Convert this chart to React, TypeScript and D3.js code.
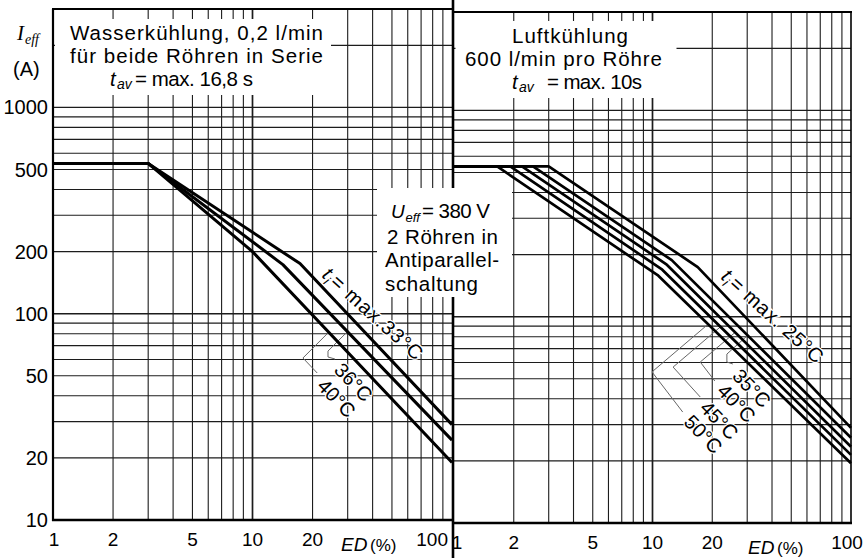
import React from "react";
import * as d3 from "d3";

type Pt = [number, number];

// ---------------- data ----------------
const edGrid = [1, 2, 3, 4, 5, 6, 7, 8, 9, 10, 20, 30, 40, 50, 60, 70, 80, 90, 100];
const currentGrid = [10, 20, 30, 40, 50, 60, 70, 80, 90, 100, 200, 300, 400, 500, 600, 700, 800, 900, 1000, 2000, 3000];
const edTickLabels = [1, 2, 5, 10, 20];
const currentTickLabels = [10, 20, 50, 100, 200, 500, 1000];

// water cooling (left panel): [ED %, I_eff A]
const water33: Pt[] = [[1, 535], [3, 535], [17.3, 175], [100, 29]];
const water36: Pt[] = [[1, 535], [3, 535], [14.2, 173], [100, 24.4]];
const water40: Pt[] = [[1, 535], [3, 535], [10, 200], [100, 19]];

// air cooling (right panel)
const air25: Pt[] = [[1, 535], [3.0, 535], [16.9, 174], [100, 28.9]];
const air35: Pt[] = [[1, 535], [2.5, 535], [12.5, 188], [100, 25.9]];
const air40: Pt[] = [[1, 535], [2.2, 535], [11.7, 180], [100, 23.4]];
const air45: Pt[] = [[1, 535], [1.92, 535], [11.2, 169], [100, 21.4]];
const air50: Pt[] = [[1, 535], [1.65, 535], [10.7, 158], [100, 19.5]];

const waterCurves = [water33, water36, water40];
const airCurves = [air25, air35, air40, air45, air50];

// ---------------- layout ----------------
const W = 865;
const H = 558;
const FONT = "'Liberation Sans', Arial, Helvetica, sans-serif";
const SERIF = "'Liberation Serif', 'Times New Roman', serif";

const xL = d3.scaleLog().domain([1, 100]).range([53, 452]);
const yL = d3.scaleLog().domain([10, 3000]).range([520, 9]);
const xR = d3.scaleLog().domain([1, 100]).range([454, 851]);
const yR = d3.scaleLog().domain([10, 3000]).range([523, 12]);

type Ann = { text: string; curve: Pt[]; at: Pt; leader: Pt[]; dir: number };

const leftAnns: Ann[] = [
  { text: "36°C", curve: water36, at: [25.3, 52.8], leader: [[25.9, 60.3], [23.9, 61.7], [23.9, 65.9]], dir: 1 },
  { text: "40°C", curve: water40, at: [20.8, 44.1], leader: [[21.1, 51.6], [17.9, 61.0]], dir: 1 },
];
const rightAnns: Ann[] = [
  { text: "35°C", curve: air35, at: [24.9, 51], leader: [[25.4, 59], [23.7, 60.3], [23.7, 65.9]], dir: 0.9 },
  { text: "40°C", curve: air40, at: [20.9, 43.2], leader: [[20.6, 48.8], [17.4, 60.3]], dir: 0.85 },
  { text: "45°C", curve: air45, at: [17.1, 35.7], leader: [[17.4, 40.8], [12.7, 57]], dir: 0.85 },
  { text: "50°C", curve: air50, at: [14.2, 30.5], leader: [[14.2, 34.5], [9.94, 54]], dir: 0.85 },
];

function interpY(pts: Pt[], x: number): number | null {
  for (let i = 0; i < pts.length - 1; i++) {
    const [x0, y0] = pts[i];
    const [x1, y1] = pts[i + 1];
    if (x >= x0 && x <= x1 && x1 > x0) return y0 + ((x - x0) / (x1 - x0)) * (y1 - y0);
  }
  return null;
}

function hitCurve(vx: number, vy: number, pix: Pt[], k: number): Pt {
  for (let t = 0; t < 200; t += 0.25) {
    const px = vx + t;
    const py = vy - k * t;
    const cy = interpY(pix, px);
    if (cy !== null && py <= cy + 1) return [px, py];
  }
  return [vx, vy];
}

const gridStroke = "#1c1c1c";

function Panel({ xs, ys, x0, x1, top, bottom }: any) {
  return (
    <g>
      {edGrid
        .filter((v) => v > 1 && v < 100)
        .map((v) => (
          <line key={"v" + v} x1={xs(v)} x2={xs(v)} y1={top} y2={bottom} stroke={gridStroke} strokeWidth={v === 10 ? 1.7 : 1.1} />
        ))}
      {currentGrid
        .filter((v) => v > 10 && v < 3000)
        .map((v) => (
          <line key={"h" + v} x1={x0} x2={x1} y1={ys(v)} y2={ys(v)} stroke={gridStroke} strokeWidth={v === 100 || v === 1000 ? 1.4 : 1.1} />
        ))}
    </g>
  );
}

function Curves({ xs, ys, curves, width }: any) {
  const gen = d3
    .line<Pt>()
    .x((d) => xs(d[0]))
    .y((d) => ys(d[1]));
  return (
    <g>
      {curves.map((c: Pt[], i: number) => (
        <path key={i} d={gen(c) || ""} fill="none" stroke="#000" strokeWidth={width} strokeLinejoin="round" />
      ))}
    </g>
  );
}

function Leaders({ xs, ys, anns }: { xs: any; ys: any; anns: Ann[] }) {
  return (
    <g>
      {anns.map((a, i) => {
        const pix: Pt[] = a.curve.map((d) => [xs(d[0]), ys(d[1])] as Pt);
        const lp: Pt[] = a.leader.map((d) => [xs(d[0]), ys(d[1])] as Pt);
        const v = lp[lp.length - 1];
        const hit = hitCurve(v[0], v[1], pix, a.dir);
        const all = [...lp, hit];
        return <path key={i} d={d3.line()(all as any) || ""} fill="none" stroke="#666" strokeWidth={1} />;
      })}
    </g>
  );
}

function TempLabels({ xs, ys, anns }: { xs: any; ys: any; anns: Ann[] }) {
  return (
    <g>
      {anns.map((a, i) => (
        <text
          key={i}
          transform={`translate(${xs(a.at[0])},${ys(a.at[1])}) rotate(46)`}
          fontFamily={FONT}
          fontSize={20}
          fill="#000"
          stroke="#fff"
          strokeWidth={2.5}
          paintOrder="stroke"
        >
          {a.text}
        </text>
      ))}
    </g>
  );
}

function MainLabel({ x, y, rest, len, angle }: { x: number; y: number; rest: string; len: number; angle: number }) {
  return (
    <g transform={`translate(${x},${y}) rotate(${angle})`} fontFamily={FONT} fill="#000" stroke="#fff" strokeWidth={2.5} style={{ paintOrder: "stroke" }}>
      <text x={0} y={0} fontSize={20} fontStyle="italic">t</text>
      <text x={6} y={4} fontSize={13} fontStyle="italic">i</text>
      <text x={11} y={0} fontSize={20} textLength={len} lengthAdjust="spacing">{rest}</text>
    </g>
  );
}

export default function App() {
  return (
    <svg width={W} height={H} viewBox={`0 0 ${W} ${H}`} style={{ position: "absolute", left: 0, top: 0, display: "block", background: "#fff" }}>
      <rect x={0} y={0} width={W} height={H} fill="#fff" />

      {/* grids */}
      <Panel xs={xL} ys={yL} x0={53} x1={453} top={9} bottom={520} />
      <Panel xs={xR} ys={yR} x0={453} x1={851} top={12} bottom={523} />

      {/* white masks under text blocks */}
      <rect x={55} y={19} width={276} height={76} fill="#fff" />
      <rect x={455.5} y={21} width={221} height={77} fill="#fff" />
      <rect x={377} y={188} width={135} height={109} fill="#fff" />

      {/* frames */}
      <line x1={53} x2={53} y1={9} y2={521} stroke="#000" strokeWidth={2.2} />
      <line x1={52} x2={453} y1={9} y2={9} stroke="#000" strokeWidth={2} />
      <line x1={52} x2={453} y1={520} y2={520} stroke="#000" strokeWidth={2.6} />
      <line x1={453} x2={453} y1={0} y2={188} stroke="#000" strokeWidth={2.6} />
      <line x1={453} x2={453} y1={297} y2={558} stroke="#000" strokeWidth={2.6} />
      <line x1={453} x2={852} y1={12} y2={12} stroke="#000" strokeWidth={2} />
      <line x1={851} x2={851} y1={12} y2={524} stroke="#000" strokeWidth={1.6} />
      <line x1={453} x2={852} y1={523} y2={523} stroke="#000" strokeWidth={2.6} />

      {/* leaders, labels, curves */}
      <Leaders xs={xL} ys={yL} anns={leftAnns} />
      <Leaders xs={xR} ys={yR} anns={rightAnns} />
      <TempLabels xs={xL} ys={yL} anns={leftAnns} />
      <TempLabels xs={xR} ys={yR} anns={rightAnns} />
      <MainLabel x={xL(22.05)} y={yL(152)} rest=" = max.33°C" len={116} angle={42} />
      <MainLabel x={xR(21.9)} y={yR(154)} rest=" = max. 25°C" len={118} angle={42} />
      <Curves xs={xL} ys={yL} curves={waterCurves} width={3} />
      <Curves xs={xR} ys={yR} curves={airCurves} width={2.7} />

      {/* left title */}
      <g fontFamily={FONT} fill="#000">
        <text x={70} y={40} fontSize={20.5} textLength={253} lengthAdjust="spacing">Wasserkühlung, 0,2 l/min</text>
        <text x={70} y={62.5} fontSize={20.5} textLength={253} lengthAdjust="spacing">für beide Röhren in Serie</text>
        <text x={110} y={85.5} fontSize={20.5} fontStyle="italic">t</text>
        <text x={117} y={89} fontSize={14} fontStyle="italic">av</text>
        <text x={135} y={85.5} fontSize={20.5} textLength={118} lengthAdjust="spacing">= max. 16,8 s</text>
      </g>

      {/* right title */}
      <g fontFamily={FONT} fill="#000">
        <text x={512} y={43} fontSize={20.5} textLength={116} lengthAdjust="spacing">Luftkühlung</text>
        <text x={465} y={65.5} fontSize={20.5} textLength={197} lengthAdjust="spacing">600 l/min pro Röhre</text>
        <text x={512} y={88.5} fontSize={20.5} fontStyle="italic">t</text>
        <text x={519} y={92} fontSize={14} fontStyle="italic">av</text>
        <text x={547} y={88.5} fontSize={20.5} textLength={95} lengthAdjust="spacing">= max. 10s</text>
      </g>

      {/* middle box */}
      <g fontFamily={FONT} fill="#000">
        <text x={391} y={218} fontSize={19} fontStyle="italic">U</text>
        <text x={405.5} y={222} fontSize={13} fontStyle="italic">eff</text>
        <text x={422} y={218} fontSize={20.5} textLength={68} lengthAdjust="spacing">= 380 V</text>
        <text x={387} y={243.5} fontSize={20.5} textLength={111} lengthAdjust="spacing">2 Röhren in</text>
        <text x={385} y={267} fontSize={20.5} textLength={114} lengthAdjust="spacing">Antiparallel-</text>
        <text x={385} y={290.5} fontSize={20.5} textLength={93} lengthAdjust="spacing">schaltung</text>
      </g>

      {/* y axis */}
      <g fontFamily={FONT} fill="#000">
        <text x={17} y={40} fontSize={21} fontFamily={SERIF} fontStyle="italic">I</text>
        <text x={25} y={44} fontSize={14} fontFamily={SERIF} fontStyle="italic">eff</text>
        <text x={13} y={76} fontSize={20}>(A)</text>
        {currentTickLabels.map((v) => (
          <text key={v} x={48} y={yL(v)} dy="0.35em" fontSize={20} textAnchor="end">
            {v}
          </text>
        ))}
      </g>

      {/* x axes */}
      <g fontFamily={FONT} fill="#000" fontSize={19}>
        {edTickLabels.map((v) => (
          <text key={"l" + v} x={xL(v) + (v === 1 ? 1 : 0)} y={546} textAnchor="middle">
            {v}
          </text>
        ))}
        <text x={448} y={546} textAnchor="end">100</text>
        <text x={341} y={551} fontStyle="italic">ED</text>
        <text x={370} y={551} fontSize={17}>(%)</text>
        {edTickLabels.map((v) => (
          <text key={"r" + v} x={xR(v) + (v === 1 ? 3 : 0)} y={549} textAnchor="middle">
            {v}
          </text>
        ))}
        <text x={847} y={549} textAnchor="middle">100</text>
        <text x={748} y={554} fontStyle="italic">ED</text>
        <text x={777} y={554} fontSize={17}>(%)</text>
      </g>
    </svg>
  );
}
